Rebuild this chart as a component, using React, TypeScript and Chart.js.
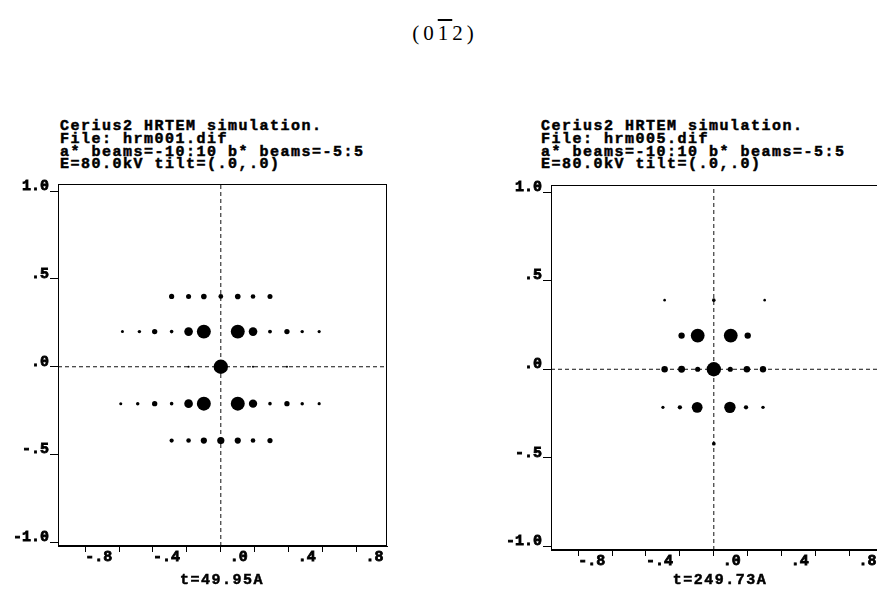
import React, { useEffect, useRef } from "react";
import { Chart, registerables } from "chart.js";

Chart.register(...registerables);

// ---------- data ----------
const X_MIN = -0.96;
const X_MAX = 0.98;
const Y_MIN = -1.02;
const Y_MAX = 1.04;

const X_TICKS = [-0.8, -0.6, -0.4, -0.2, 0, 0.2, 0.4, 0.6, 0.8];
const X_TICK_LABELS = ["-.8", "", "-.4", "", " .0", "", " .4", "", " .8"];
const Y_TICKS = [-1, -0.5, 0, 0.5, 1];
const Y_TICK_LABELS = ["-1.0", "-.5", ".0", ".5", "1.0"];

const LEFT_HEADER = [
  "Cerius2 HRTEM simulation.",
  "File: hrm001.dif",
  "a* beams=-10:10 b* beams=-5:5",
  "E=80.0kV tilt=(.0,.0)",
];
const RIGHT_HEADER = [
  "Cerius2 HRTEM simulation.",
  "File: hrm005.dif",
  "a* beams=-10:10 b* beams=-5:5",
  "E=80.0kV tilt=(.0,.0)",
];
const LEFT_THICKNESS = "t=49.95A";
const RIGHT_THICKNESS = "t=249.73A";

// hrm001: diffraction spots, one row per reciprocal-lattice row
const LEFT_ROW_Y = [0.4, 0.2, 0.0, -0.21, -0.42];
const LEFT_ROW_X = [
  [-0.29, -0.19, -0.1, 0, 0.1, 0.19, 0.29],
  [-0.58, -0.48, -0.39, -0.29, -0.19, -0.1, 0.1, 0.19, 0.29, 0.39, 0.48, 0.58],
  [-0.19, 0, 0.19, 0.39],
  [-0.59, -0.49, -0.39, -0.29, -0.19, -0.1, 0.1, 0.19, 0.29, 0.39, 0.48, 0.58],
  [-0.29, -0.19, -0.1, 0, 0.1, 0.19, 0.29],
];
// relative spot intensity (central beam = 1)
const LEFT_ROW_I = [
  [0.36, 0.35, 0.39, 0.33, 0.39, 0.32, 0.35],
  [0.21, 0.24, 0.37, 0.25, 0.6, 0.97, 0.97, 0.6, 0.27, 0.37, 0.24, 0.22],
  [0.15, 1.0, 0.15, 0.15],
  [0.21, 0.24, 0.37, 0.25, 0.6, 0.97, 0.97, 0.58, 0.25, 0.37, 0.24, 0.22],
  [0.29, 0.32, 0.43, 0.5, 0.43, 0.32, 0.36],
];

// hrm005
const RIGHT_ROW_Y = [0.39, 0.19, 0.0, -0.215, -0.42];
const RIGHT_ROW_X = [
  [-0.29, 0, 0.3],
  [-0.19, -0.095, 0.1, 0.2],
  [-0.29, -0.19, -0.095, 0, 0.097, 0.195, 0.29],
  [-0.3, -0.2, -0.098, 0.095, 0.19, 0.29],
  [0],
];
const RIGHT_ROW_I = [
  [0.18, 0.25, 0.18],
  [0.44, 0.96, 0.96, 0.44],
  [0.45, 0.48, 0.36, 1.0, 0.36, 0.45, 0.44],
  [0.22, 0.3, 0.75, 0.79, 0.3, 0.24],
  [0.26],
];

// ---------- style ----------
const MONO = "'Liberation Mono', 'DejaVu Sans Mono', monospace";
const SERIF = "'Liberation Serif', 'DejaVu Serif', serif";
const DOT_MAX_RADIUS = 7.2;

type PanelProps = {
  header: string[];
  thickness: string;
  rowY: number[];
  rowX: number[][];
  rowI: number[][];
  canvasLeft: number;
  canvasTop: number;
  canvasWidth: number;
  canvasHeight: number;
  padTop: number;
  padRight: number;
  yAxisWidth: number;
  headerLeft: number;
  headerTop: number;
  footerCenter: number;
  footerTop: number;
};

const framePlugin = {
  id: "frame",
  afterDatasetsDraw(chart: any) {
    const { ctx, chartArea: a } = chart;
    ctx.save();
    ctx.strokeStyle = "#000";
    ctx.lineWidth = 1;
    const l = Math.round(a.left) + 0.5;
    const t = Math.round(a.top) + 0.5;
    const r = Math.round(a.right) - 0.5;
    const b = Math.round(a.bottom) - 0.5;
    ctx.strokeRect(l, t, r - l, b - t);
    ctx.restore();
  },
};

function Panel(p: PanelProps) {
  const ref = useRef<HTMLCanvasElement | null>(null);

  useEffect(() => {
    if (!ref.current) return;
    const points: { x: number; y: number; r: number }[] = [];
    p.rowY.forEach((y, ri) => {
      p.rowX[ri].forEach((x, ci) => {
        points.push({ x, y, r: DOT_MAX_RADIUS * p.rowI[ri][ci] });
      });
    });

    const dashed = {
      type: "line",
      borderColor: "#111",
      borderWidth: 1,
      borderDash: [4, 3],
      pointRadius: 0,
      fill: false,
      order: 2,
    };

    const chart = new Chart(ref.current, {
      type: "bubble",
      data: {
        datasets: [
          {
            type: "bubble",
            data: points,
            backgroundColor: "#000",
            borderWidth: 0,
            order: 1,
          } as any,
          {
            ...dashed,
            data: [
              { x: 0, y: Y_MIN },
              { x: 0, y: Y_MAX },
            ],
          } as any,
          {
            ...dashed,
            data: [
              { x: X_MIN, y: 0 },
              { x: X_MAX, y: 0 },
            ],
          } as any,
        ],
      },
      options: {
        animation: false,
        responsive: false,
        devicePixelRatio: 1,
        events: [],
        layout: {
          padding: { top: p.padTop, right: p.padRight, bottom: 0, left: 0 },
        },
        plugins: {
          legend: { display: false },
          tooltip: { enabled: false },
          title: { display: false },
        },
        scales: {
          x: {
            type: "linear",
            min: X_MIN,
            max: X_MAX,
            afterBuildTicks: (s: any) => {
              s.ticks = X_TICKS.map((v) => ({ value: v }));
            },
            afterFit: (s: any) => {
              s.height = 30;
            },
            grid: {
              drawOnChartArea: false,
              drawTicks: true,
              tickLength: 6,
              tickColor: "#000",
              tickWidth: 1,
            },
            border: { display: true, color: "#000", width: 1 },
            ticks: {
              align: "start",
              padding: -4,
              color: "#000",
              textStrokeColor: "#000",
              textStrokeWidth: 0.8,
              autoSkip: false,
              maxRotation: 0,
              font: { family: MONO, size: 15, weight: "bold" },
              callback: (v: any) => {
                const i = X_TICKS.findIndex((t) => Math.abs(t - Number(v)) < 1e-6);
                return i >= 0 ? X_TICK_LABELS[i] : "";
              },
            },
          },
          y: {
            type: "linear",
            min: Y_MIN,
            max: Y_MAX,
            afterBuildTicks: (s: any) => {
              s.ticks = Y_TICKS.map((v) => ({ value: v }));
            },
            afterFit: (s: any) => {
              s.width = p.yAxisWidth;
            },
            grid: {
              drawOnChartArea: false,
              drawTicks: true,
              tickLength: 8,
              tickColor: "#000",
              tickWidth: 1,
            },
            border: { display: true, color: "#000", width: 1 },
            ticks: {
              padding: 1,
              labelOffset: -5,
              color: "#000",
              textStrokeColor: "#000",
              textStrokeWidth: 0.8,
              autoSkip: false,
              font: { family: MONO, size: 15, weight: "bold" },
              callback: (v: any) => {
                const i = Y_TICKS.findIndex((t) => Math.abs(t - Number(v)) < 1e-6);
                return i >= 0 ? Y_TICK_LABELS[i] : "";
              },
            },
          },
        },
      } as any,
      plugins: [framePlugin],
    });
    return () => chart.destroy();
  }, []);

  const textStyle: React.CSSProperties = {
    position: "absolute",
    fontFamily: MONO,
    fontWeight: "bold",
    fontSize: 15,
    lineHeight: "12.8px",
    letterSpacing: "1.5px",
    whiteSpace: "pre",
    color: "#000",
    WebkitTextStroke: "0.5px #000",
  };

  return (
    <>
      <div style={{ ...textStyle, left: p.headerLeft, top: p.headerTop }}>
        {p.header.map((line, i) => (
          <div key={i}>{line}</div>
        ))}
      </div>
      <canvas
        ref={ref}
        width={p.canvasWidth}
        height={p.canvasHeight}
        style={{
          position: "absolute",
          left: p.canvasLeft,
          top: p.canvasTop,
          width: p.canvasWidth,
          height: p.canvasHeight,
          display: "block",
        }}
      />
      <div
        style={{
          ...textStyle,
          left: p.footerCenter - 100,
          width: 200,
          textAlign: "center",
          top: p.footerTop,
        }}
      >
        {p.thickness}
      </div>
    </>
  );
}

export default function App() {
  return (
    <div
      style={{
        position: "fixed",
        left: 0,
        top: 0,
        width: 877,
        height: 594,
        overflow: "hidden",
        background: "#fff",
      }}
    >
      <div
        style={{
          position: "absolute",
          left: 345,
          top: 21,
          width: 200,
          textAlign: "center",
          fontFamily: SERIF,
          fontSize: 21,
          lineHeight: "24px",
          letterSpacing: "4px",
          color: "#000",
        }}
      >
        (0<span style={{ textDecoration: "overline" }}>1</span>2)
      </div>
      <Panel
        header={LEFT_HEADER}
        thickness={LEFT_THICKNESS}
        rowY={LEFT_ROW_Y}
        rowX={LEFT_ROW_X}
        rowI={LEFT_ROW_I}
        canvasLeft={0}
        canvasTop={168}
        canvasWidth={400}
        canvasHeight={408}
        padTop={16}
        padRight={13}
        yAxisWidth={58}
        headerLeft={60}
        headerTop={121}
        footerCenter={222}
        footerTop={575}
      />
      <Panel
        header={RIGHT_HEADER}
        thickness={RIGHT_THICKNESS}
        rowY={RIGHT_ROW_Y}
        rowX={RIGHT_ROW_X}
        rowI={RIGHT_ROW_I}
        canvasLeft={494}
        canvasTop={168}
        canvasWidth={400}
        canvasHeight={412}
        padTop={17}
        padRight={14}
        yAxisWidth={57}
        headerLeft={541}
        headerTop={121}
        footerCenter={720}
        footerTop={575}
      />
    </div>
  );
}
